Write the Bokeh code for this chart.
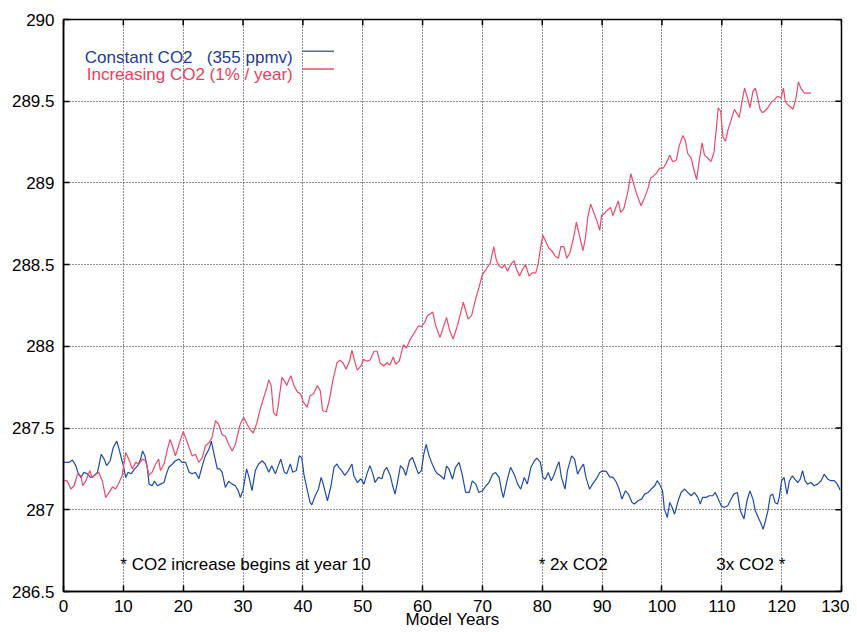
from bokeh.plotting import figure
from bokeh.models import FixedTicker, Label, ColumnDataSource
from bokeh.embed import file_html
from bokeh.resources import INLINE

# ---------------- data ----------------
x_ticks = [0, 10, 20, 30, 40, 50, 60, 70, 80, 90, 100, 110, 120, 130]
y_ticks = [286.5, 287.0, 287.5, 288.0, 288.5, 289.0, 289.5, 290.0]
y_tick_labels = ["286.5", "287", "287.5", "288", "288.5", "289", "289.5", "290"]

series_names = ["Constant CO2\u00a0\u00a0 (355 ppmv)", "Increasing CO2 (1% / year)"]
x_label = "Model Years"
notes = ["* CO2 increase begins at year 10", "* 2x CO2", "3x CO2 *"]

blue_year = [0.1, 0.9, 1.5, 2.05, 2.4, 2.9, 3.4, 4.0, 4.55, 5.1, 5.7, 6.3, 6.8, 7.2, 7.8, 8.3, 8.9, 9.3, 9.7, 10.0,
             10.4, 10.8, 11.3, 11.9, 12.4, 12.9, 13.2, 13.6, 14.0, 14.3, 14.8, 15.2, 15.7, 16.2, 16.8, 17.2, 17.6, 18.2, 18.7, 19.3,
             19.8, 20.4, 21.0, 21.5, 22.05, 22.6, 23.2, 23.7, 24.3, 24.7, 25.1, 25.7, 26.1, 26.5, 27.05, 27.6, 28.2, 28.7, 29.2, 29.55,
             30.0, 30.6, 31.0, 31.5, 32.05, 32.6, 33.2, 33.7, 34.3, 34.8, 35.4, 35.9, 36.3, 36.9, 37.3, 37.9, 38.3, 38.9, 39.4, 39.8,
             40.2, 40.7, 41.2, 41.5, 42.05, 42.6, 43.05, 43.4, 44.1, 44.7, 45.2, 45.7, 46.0, 46.5, 47.0, 47.6, 48.2, 48.5, 49.1, 49.7,
             50.2, 50.7, 51.2, 51.7, 52.05, 52.6, 53.2, 53.6, 54.0, 54.6, 55.0, 55.4, 55.8, 56.3, 56.8, 57.2, 57.8, 58.3, 58.9, 59.3,
             59.8, 60.2, 60.6, 61.0, 61.5, 62.1, 62.5, 63.0, 63.6, 64.0, 64.4, 65.0, 65.5, 66.1, 66.6, 67.2, 67.8, 68.3, 68.9, 69.4,
             70.0, 70.6, 71.1, 71.7, 72.2, 72.8, 73.2, 73.5, 74.1, 74.7, 75.3, 75.9, 76.4, 77.0, 77.5, 78.1, 78.7, 79.1, 79.7, 80.1,
             80.5, 81.0, 81.5, 81.9, 82.5, 82.8, 83.2, 83.8, 84.2, 84.9, 85.4, 85.9, 86.5, 86.9, 87.3, 87.9, 88.4, 89.0, 89.6, 90.1,
             90.7, 91.3, 91.8, 92.4, 92.9, 93.3, 93.9, 94.4, 95.0, 95.4, 96.0, 96.6, 97.1, 97.7, 98.2, 98.8, 99.2, 99.6, 100.1, 100.4,
             100.9, 101.3, 101.7, 102.1, 102.7, 103.2, 103.8, 104.3, 104.9, 105.4, 106.0, 106.4, 106.8, 107.4, 107.9, 108.5, 108.9, 109.3, 109.9, 110.4,
             111.0, 111.4, 112.0, 112.6, 113.1, 113.7, 114.2, 114.7, 115.2, 115.6, 116.1, 116.6, 116.9, 117.3, 117.7, 118.1, 118.5, 118.9, 119.3, 119.6,
             120.0, 120.4, 120.9, 121.3, 121.8, 122.2, 122.7, 123.1, 123.5, 123.9, 124.3, 124.9, 125.4, 126.0, 126.6, 127.1, 127.7, 128.2, 128.8, 129.3,
             129.8]
blue_temp = [287.29, 287.29, 287.305, 287.27, 287.23, 287.197, 287.23, 287.22, 287.197, 287.208, 287.23, 287.34, 287.31, 287.27, 287.30, 287.38, 287.42, 287.37, 287.31, 287.27,
             287.197, 287.23, 287.22, 287.25, 287.27, 287.31, 287.36, 287.33, 287.26, 287.157, 287.147, 287.175, 287.147, 287.157, 287.167, 287.22, 287.26, 287.28, 287.30, 287.31,
             287.29, 287.29, 287.23, 287.22, 287.23, 287.19, 287.27, 287.33, 287.37, 287.42, 287.35, 287.25, 287.25, 287.23, 287.137, 287.175, 287.157, 287.147, 287.117, 287.075,
             287.12, 287.25, 287.20, 287.117, 287.24, 287.28, 287.30, 287.28, 287.23, 287.27, 287.22, 287.27, 287.31, 287.23, 287.22, 287.28, 287.23, 287.24, 287.33, 287.32,
             287.21, 287.126, 287.045, 287.03, 287.086, 287.126, 287.198, 287.157, 287.055, 287.147, 287.26, 287.28, 287.26, 287.24, 287.21, 287.24, 287.28, 287.21, 287.167, 287.19,
             287.157, 287.22, 287.27, 287.22, 287.167, 287.198, 287.19, 287.24, 287.26, 287.21, 287.147, 287.096, 287.167, 287.27, 287.25, 287.21, 287.30, 287.32, 287.26, 287.22,
             287.24, 287.34, 287.40, 287.34, 287.29, 287.24, 287.22, 287.208, 287.187, 287.269, 287.25, 287.187, 287.26, 287.29, 287.218, 287.106, 287.106, 287.177, 287.157, 287.106,
             287.116, 287.147, 287.167, 287.218, 287.228, 287.198, 287.116, 287.075, 287.177, 287.26, 287.218, 287.157, 287.126, 287.198, 287.157, 287.26, 287.30, 287.316, 287.29, 287.198,
             287.187, 287.228, 287.177, 287.208, 287.27, 287.294, 287.198, 287.126, 287.238, 287.33, 287.31, 287.218, 287.26, 287.28, 287.198, 287.126, 287.157, 287.187, 287.228, 287.238,
             287.235, 287.20, 287.20, 287.167, 287.12, 287.065, 287.116, 287.096, 287.045, 287.035, 287.055, 287.065, 287.096, 287.106, 287.127, 287.147, 287.178, 287.157, 287.116, 287.004,
             286.953, 287.045, 287.014, 286.973, 287.055, 287.106, 287.127, 287.106, 287.086, 287.106, 287.076, 287.035, 287.076, 287.076, 287.086, 287.086, 287.106, 287.076, 287.025, 287.014,
             287.025, 287.055, 287.096, 287.106, 286.994, 286.943, 287.055, 287.116, 287.065, 286.994, 286.953, 286.912, 286.88, 286.933, 286.994, 287.086, 287.096, 287.045, 287.035, 287.076,
             287.178, 287.198, 287.096, 287.178, 287.208, 287.188, 287.167, 287.188, 287.239, 287.178, 287.157, 287.167, 287.147, 287.157, 287.178, 287.218, 287.188, 287.178, 287.178, 287.157,
             287.12]

red_year = [0.1, 0.66, 1.22, 1.77, 2.33, 2.9, 3.2, 3.7, 4.4, 4.8, 5.4, 5.9, 6.5, 7.05, 7.6, 8.2, 8.7, 9.3, 9.8, 10.4,
            10.9, 11.5, 12.05, 12.6, 13.2, 13.7, 14.3, 14.8, 15.4, 15.9, 16.2, 16.8, 17.3, 17.8, 18.2, 18.7, 19.3, 20.0, 20.4, 21.0,
            21.5, 22.05, 22.6, 23.2, 23.7, 24.3, 24.8, 25.4, 25.9, 26.5, 27.05, 27.6, 28.2, 28.7, 29.5, 30.1, 30.6, 31.2, 31.7, 32.3,
            32.9, 33.4, 34.0, 34.3, 34.7, 35.1, 35.6, 35.9, 36.5, 37.05, 37.3, 37.6, 38.0, 38.5, 39.1, 39.6, 40.1, 40.7, 41.2, 41.8,
            42.4, 42.9, 43.3, 43.9, 44.4, 45.0, 45.7, 46.2, 46.7, 47.2, 47.8, 48.2, 48.5, 49.1, 49.7, 50.1, 50.7, 51.2, 51.9, 52.4,
            52.9, 53.5, 54.1, 54.5, 55.1, 55.5, 56.1, 56.8, 57.3, 57.9, 58.4, 58.9, 59.3, 59.8, 60.4, 60.8, 61.3, 61.7, 62.2, 62.9,
            63.5, 64.0, 64.5, 65.1, 65.9, 66.8, 67.6, 68.2, 68.9, 69.4, 70.0, 70.6, 71.3, 71.9, 72.3, 72.8, 73.3, 73.7, 74.2, 74.7,
            75.3, 75.7, 76.2, 76.7, 77.2, 77.8, 78.3, 78.9, 79.3, 79.7, 80.1, 80.6, 81.1, 81.7, 82.2, 82.7, 83.1, 83.6, 84.1, 84.6,
            85.2, 85.7, 86.2, 86.8, 87.2, 87.6, 88.1, 88.6, 89.2, 89.6, 89.9, 90.3, 90.8, 91.4, 91.8, 92.2, 92.7, 93.1, 93.6, 94.2,
            94.4, 94.8, 95.3, 95.8, 96.5, 97.1, 97.7, 98.1, 98.5, 99.1, 99.6, 100.2, 100.7, 101.3, 101.8, 102.4, 102.9, 103.5, 103.9, 104.3,
            104.9, 105.4, 105.8, 106.2, 106.7, 107.1, 107.7, 108.2, 108.7, 109.1, 109.4, 109.8, 110.2, 110.6, 111.0, 111.6, 112.1, 112.6, 112.9, 113.3,
            113.8, 114.3, 114.7, 115.2, 115.6, 116.0, 116.4, 116.8, 117.2, 117.7, 118.2, 118.8, 119.3, 119.9, 120.3, 120.6, 121.0, 121.6, 121.9, 122.4,
            122.8, 123.2, 123.8, 124.3, 124.9]
red_temp = [287.18, 287.175, 287.127, 287.147, 287.218, 287.21, 287.147, 287.175, 287.239, 287.197, 287.218, 287.228, 287.175, 287.075, 287.105, 287.14, 287.127, 287.167, 287.21, 287.35,
            287.31, 287.25, 287.29, 287.28, 287.31, 287.30, 287.21, 287.23, 287.28, 287.31, 287.24, 287.28, 287.36, 287.43, 287.39, 287.33, 287.40, 287.48, 287.44, 287.38,
            287.33, 287.34, 287.29, 287.32, 287.39, 287.41, 287.44, 287.545, 287.525, 287.46, 287.45, 287.40, 287.36, 287.40, 287.52, 287.565, 287.53, 287.49, 287.47, 287.53,
            287.62, 287.68, 287.75, 287.795, 287.76, 287.595, 287.575, 287.647, 287.81, 287.78, 287.76, 287.79, 287.82, 287.76, 287.72, 287.71, 287.657, 287.627, 287.698, 287.71,
            287.76, 287.73, 287.606, 287.60, 287.667, 287.79, 287.90, 287.915, 287.90, 287.86, 287.91, 287.977, 287.93, 287.855, 287.88, 287.92, 287.91, 287.915, 287.97, 287.97,
            287.90, 287.88, 287.90, 287.885, 287.935, 287.89, 287.91, 288.01, 287.99, 288.04, 288.07, 288.10, 288.126, 288.12, 288.15, 288.187, 288.20, 288.21, 288.126, 288.055,
            288.12, 288.177, 288.10, 288.045, 288.136, 288.27, 288.167, 288.19, 288.295, 288.357, 288.44, 288.47, 288.51, 288.61, 288.53, 288.49, 288.48, 288.50, 288.46, 288.50,
            288.525, 288.47, 288.43, 288.47, 288.50, 288.43, 288.45, 288.45, 288.50, 288.60, 288.68, 288.64, 288.60, 288.58, 288.55, 288.54, 288.61, 288.61, 288.54, 288.57,
            288.66, 288.76, 288.68, 288.586, 288.66, 288.79, 288.87, 288.82, 288.76, 288.71, 288.80, 288.81, 288.83, 288.85, 288.80, 288.84, 288.89, 288.82, 288.84, 288.93,
            288.97, 289.056, 288.99, 288.93, 288.86, 288.91, 288.97, 289.03, 289.04, 289.06, 289.09, 289.09, 289.12, 289.17, 289.13, 289.14, 289.23, 289.29, 289.26, 289.18,
            289.15, 289.07, 289.02, 289.13, 289.245, 289.17, 289.15, 289.13, 289.19, 289.34, 289.46, 289.44, 289.28, 289.255, 289.32, 289.39, 289.45, 289.42, 289.40, 289.48,
            289.58, 289.52, 289.46, 289.56, 289.58, 289.52, 289.45, 289.43, 289.44, 289.46, 289.49, 289.51, 289.53, 289.52, 289.58, 289.50, 289.48, 289.46, 289.45, 289.52,
            289.62, 289.58, 289.55, 289.55, 289.55]

# ---------------- styling ----------------
FONT = "Liberation Sans"
BLUE = "#1d4bb0"
RED = "#f0486a"
BLUE_TXT = "#1c3c9e"
RED_TXT = "#f03c5c"

X0, X1 = 0, 130
Y0, Y1 = 286.5, 290

p = figure(width=849, height=632, x_range=(X0, X1), y_range=(Y0, Y1),
           output_backend="svg", toolbar_location=None,
           min_border_left=63, min_border_right=8, min_border_top=19, min_border_bottom=41)
p.background_fill_color = "white"
p.border_fill_color = "white"
p.outline_line_color = "black"
p.outline_line_width = 1.5

blue_src = ColumnDataSource(dict(x=blue_year, y=blue_temp))
red_src = ColumnDataSource(dict(x=red_year, y=red_temp))
p.line("x", "y", source=blue_src, line_color=BLUE, line_width=1.2)
p.line("x", "y", source=red_src, line_color=RED, line_width=1.2)

for ax, ticks in ((p.xaxis[0], x_ticks), (p.yaxis[0], y_ticks)):
    ax.ticker = FixedTicker(ticks=ticks)
    ax.major_tick_in = 6
    ax.major_tick_out = 0
    ax.minor_tick_in = 0
    ax.minor_tick_out = 0
    ax.major_tick_line_color = "black"
    ax.major_tick_line_width = 1.5
    ax.axis_line_color = "black"
    ax.axis_line_width = 1.5
    ax.major_label_text_font = FONT
    ax.major_label_text_font_size = "17px"
    ax.major_label_text_color = "black"
p.xaxis[0].major_label_standoff = 8
p.yaxis[0].major_label_standoff = 9
p.yaxis[0].major_label_overrides = {t: s for t, s in zip(y_ticks, y_tick_labels)}

# x axis title as the axis's own label
p.xaxis[0].axis_label = x_label
p.xaxis[0].axis_label_text_font = FONT
p.xaxis[0].axis_label_text_font_size = "17px"
p.xaxis[0].axis_label_text_font_style = "normal"
p.xaxis[0].axis_label_text_color = "black"
p.xaxis[0].axis_label_standoff = -5

# inward tick marks on the top and right edges (gnuplot style), from the tick arrays
tick_len_y = 6 * (Y1 - Y0) / 572.0
tick_len_x = 6 * (X1 - X0) / 778.0
p.segment(x0=x_ticks, y0=[Y1] * len(x_ticks), x1=x_ticks, y1=[Y1 - tick_len_y] * len(x_ticks),
          line_color="black", line_width=1.5)
p.segment(x0=[X1] * len(y_ticks), y0=y_ticks, x1=[X1 - tick_len_x] * len(y_ticks), y1=y_ticks,
          line_color="black", line_width=1.5)

for g, ticks in ((p.xgrid[0], x_ticks), (p.ygrid[0], y_ticks)):
    g.ticker = FixedTicker(ticks=ticks)
    g.grid_line_color = "#222222"
    g.grid_line_dash = "1 2"
    g.grid_line_width = 1
    g.grid_line_alpha = 1.0

# legend (gnuplot style: right-aligned text, then sample line)
p.add_layout(Label(x=38.3, y=289.766, text=series_names[0], text_align="right",
                   text_baseline="alphabetic", text_font=FONT, text_font_size="17px",
                   text_color=BLUE_TXT))
p.add_layout(Label(x=38.3, y=289.662, text=series_names[1], text_align="right",
                   text_baseline="alphabetic", text_font=FONT, text_font_size="17px",
                   text_color=RED_TXT))
p.segment(x0=[39.9], y0=[289.805], x1=[45.2], y1=[289.805], line_color="#5a6c8e", line_width=1.5)
p.segment(x0=[39.9], y0=[289.697], x1=[45.2], y1=[289.697], line_color=RED, line_width=1.5)

# annotations
p.add_layout(Label(x=9.5, y=286.663, text=notes[0], text_align="left", text_baseline="alphabetic",
                   text_font=FONT, text_font_size="17px", text_color="black"))
p.add_layout(Label(x=79.4, y=286.663, text=notes[1], text_align="left", text_baseline="alphabetic",
                   text_font=FONT, text_font_size="17px", text_color="black"))
p.add_layout(Label(x=120.6, y=286.663, text=notes[2], text_align="right", text_baseline="alphabetic",
                   text_font=FONT, text_font_size="17px", text_color="black"))

open("out.html", "w").write(file_html(p, INLINE))
